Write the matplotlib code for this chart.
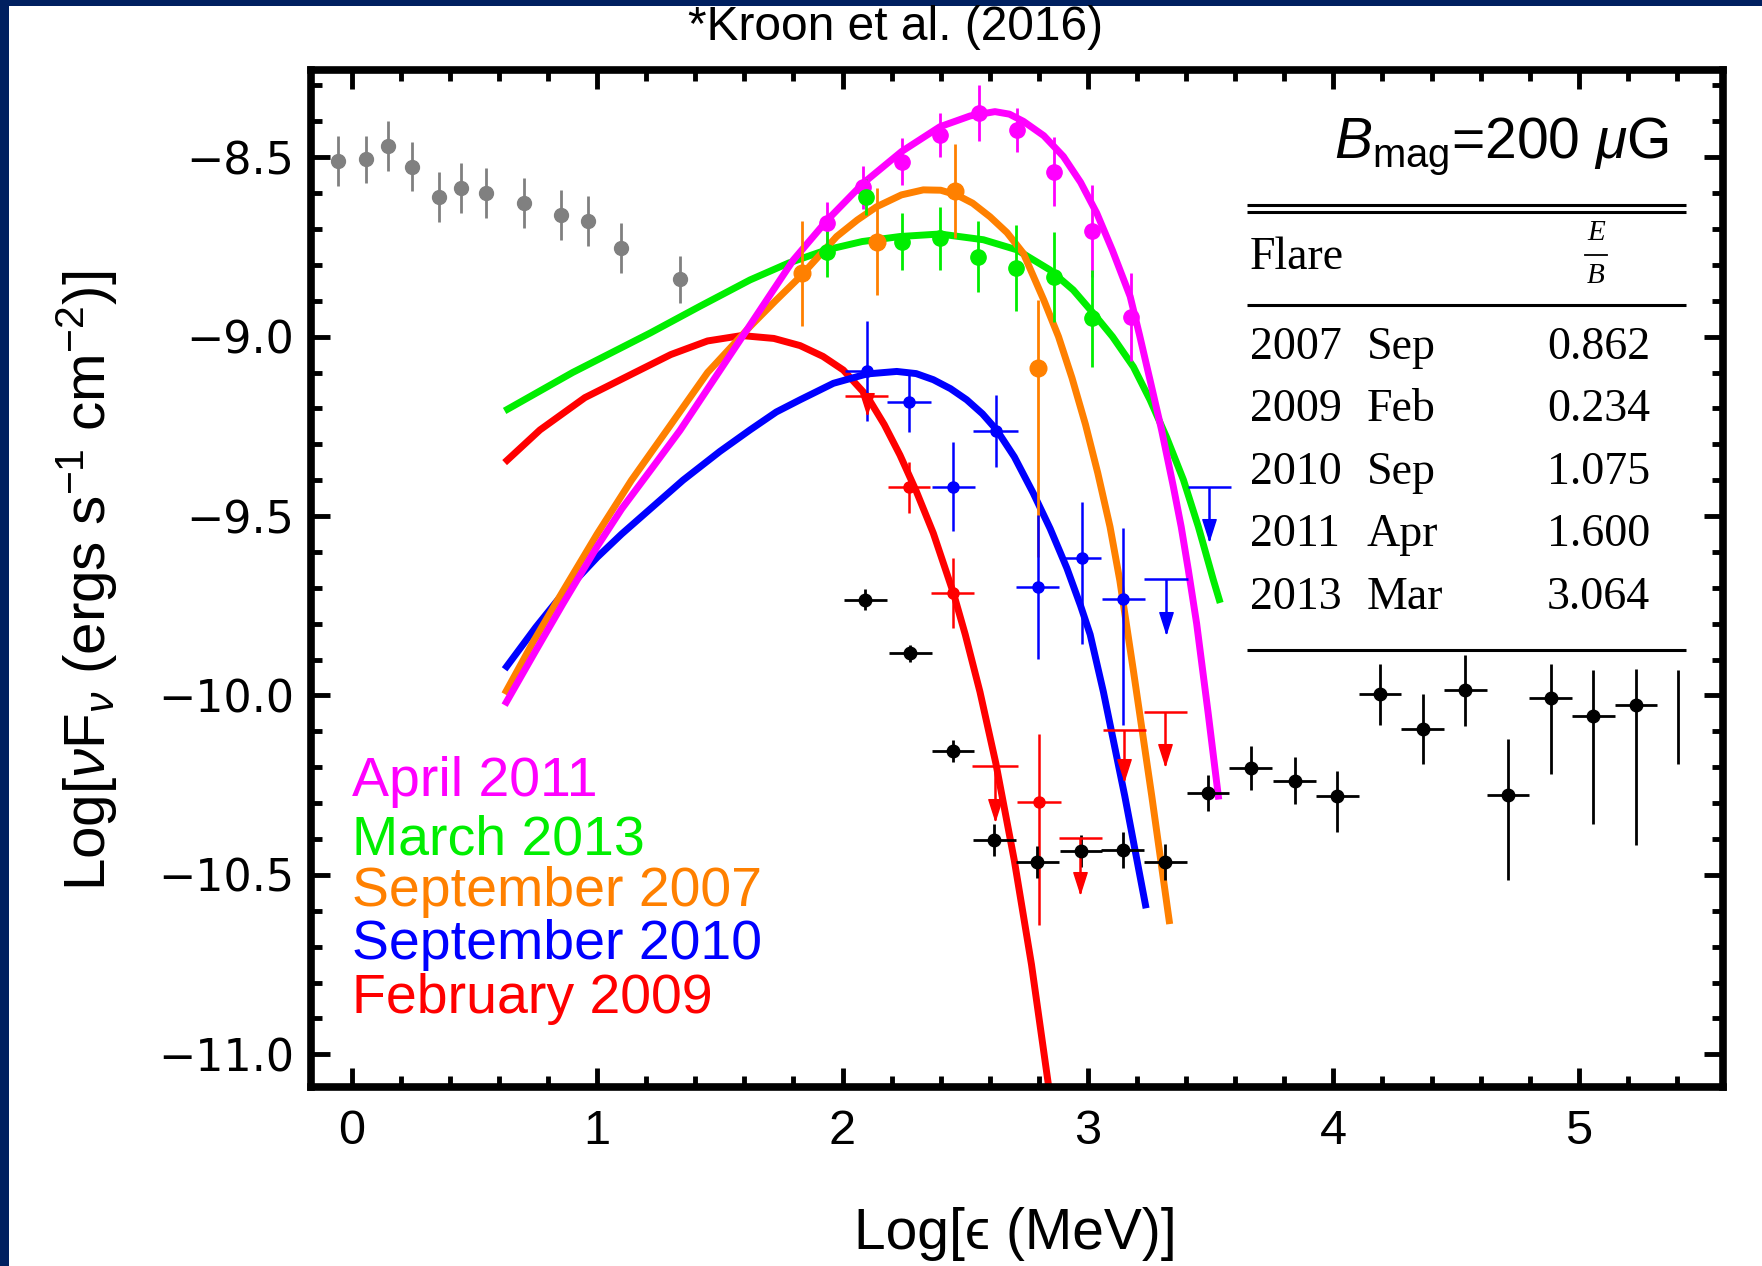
import matplotlib
matplotlib.use('Agg')
import matplotlib.pyplot as plt
from matplotlib.patches import Rectangle
from matplotlib.path import Path
from matplotlib.ticker import MultipleLocator, FixedLocator, FuncFormatter

plt.rcParams['font.family'] = ['Liberation Sans', 'DejaVu Sans']
plt.rcParams['mathtext.fontset'] = 'custom'
plt.rcParams['mathtext.rm'] = 'Liberation Sans'
plt.rcParams['mathtext.it'] = 'Liberation Sans:italic'
plt.rcParams['mathtext.bf'] = 'Liberation Sans:bold'

# ---------------- data ----------------
# gray (low-energy) points
gray_x = [-0.055, 0.058, 0.147, 0.247, 0.357, 0.446, 0.547, 0.70, 0.853, 0.963, 1.098, 1.338]
gray_y = [-8.51, -8.506, -8.469, -8.527, -8.61, -8.585, -8.599, -8.627, -8.661, -8.678, -8.754, -8.84]
gray_err = [0.07, 0.065, 0.07, 0.068, 0.07, 0.07, 0.07, 0.07, 0.07, 0.07, 0.07, 0.065]

# black (high-energy) points
blk_x = [2.093, 2.276, 2.45, 2.619, 2.793, 2.972, 3.141, 3.315, 3.489, 3.663, 3.842, 4.016,
         4.19, 4.364, 4.538, 4.712, 4.885, 5.059, 5.233]
blk_y = [-9.733, -9.883, -10.155, -10.402, -10.465, -10.434, -10.431, -10.465, -10.271, -10.202,
         -10.237, -10.28, -9.996, -10.093, -9.986, -10.277, -10.008, -10.058, -10.027]
blk_lo = [0.03, 0.025, 0.03, 0.045, 0.045, 0.045, 0.05, 0.05, 0.05, 0.06, 0.065, 0.1,
          0.085, 0.097, 0.1, 0.238, 0.21, 0.30, 0.39]
blk_hi = [0.03, 0.025, 0.03, 0.045, 0.045, 0.045, 0.05, 0.05, 0.05, 0.06, 0.065, 0.07,
          0.085, 0.097, 0.1, 0.156, 0.097, 0.13, 0.1]
blk_xerr = [0.087, 0.087, 0.087, 0.087, 0.087, 0.087, 0.087, 0.087, 0.087, 0.087, 0.087, 0.087,
            0.087, 0.087, 0.087, 0.087, 0.087, 0.087, 0.087]
blk_bar_x = [5.403]
blk_bar_lo = [-10.19]
blk_bar_hi = [-9.93]

# April 2011 (magenta)
apr_x = [1.938, 2.085, 2.241, 2.397, 2.557, 2.71, 2.862, 3.018, 3.176]
apr_y = [-8.684, -8.584, -8.512, -8.438, -8.377, -8.424, -8.54, -8.705, -8.946]
apr_err = [0.06, 0.06, 0.065, 0.062, 0.078, 0.062, 0.095, 0.128, 0.123]

# March 2013 (green)
mar_x = [1.938, 2.096, 2.241, 2.397, 2.553, 2.706, 2.863, 3.018]
mar_y = [-8.763, -8.611, -8.735, -8.726, -8.777, -8.809, -8.834, -8.949]
mar_err = [0.072, 0.05, 0.079, 0.088, 0.10, 0.12, 0.125, 0.135]

# September 2007 (orange)
s07_x = [1.836, 2.139, 2.458, 2.798]
s07_y = [-8.823, -8.735, -8.594, -9.088]
s07_lo = [0.146, 0.15, 0.13, 0.525]
s07_hi = [0.146, 0.15, 0.13, 0.19]

# September 2010 (blue)
s10_x = [2.099, 2.271, 2.452, 2.624, 2.795, 2.975, 3.144]
s10_y = [-9.096, -9.181, -9.418, -9.263, -9.698, -9.616, -9.732]
s10_lo = [0.14, 0.086, 0.124, 0.099, 0.2, 0.24, 0.35]
s10_hi = [0.14, 0.086, 0.124, 0.099, 0.2, 0.154, 0.2]
s10_xerr = [0.09, 0.088, 0.088, 0.093, 0.088, 0.08, 0.088]
s10_ul_x = [3.318, 3.495]
s10_ul_y = [-9.676, -9.418]
s10_ul_len = [0.15, 0.15]
s10_ul_xerr = [0.088, 0.088]

# February 2009 (red)
f09_x = [2.271, 2.449, 2.799]
f09_y = [-9.42, -9.715, -10.298]
f09_lo = [0.072, 0.098, 0.342]
f09_hi = [0.072, 0.098, 0.19]
f09_xerr = [0.085, 0.088, 0.09]
f09_ul_x = [2.099, 2.621, 2.969, 3.148, 3.316]
f09_ul_y = [-9.165, -10.196, -10.396, -10.096, -10.045]
f09_ul_len = [0.05, 0.15, 0.155, 0.14, 0.15]
f09_ul_xerr = [0.088, 0.093, 0.087, 0.088, 0.088]

# model curves
apr_cx = [0.623, 0.75, 0.86, 1.0, 1.1, 1.22, 1.338, 1.48, 1.623, 1.72, 1.80, 1.938, 2.085, 2.241,
          2.397, 2.52, 2.621, 2.68, 2.737, 2.82, 2.90, 2.97, 3.036, 3.10, 3.172, 3.21, 3.253,
          3.30, 3.348, 3.38, 3.409, 3.443, 3.49, 3.533]
apr_cy = [-10.027, -9.875, -9.745, -9.585, -9.48, -9.37, -9.261, -9.115, -8.968, -8.868, -8.786,
          -8.675, -8.572, -8.484, -8.415, -8.385, -8.373, -8.38, -8.40, -8.44, -8.498, -8.57,
          -8.656, -8.76, -8.888, -8.995, -9.121, -9.26, -9.418, -9.53, -9.65, -9.80, -10.05, -10.29]
mar_cx = [0.623, 0.9, 1.216, 1.42, 1.623, 1.78, 1.936, 2.08, 2.234, 2.397, 2.574, 2.71, 2.845,
          2.94, 3.022, 3.10, 3.185, 3.253, 3.32, 3.389, 3.45, 3.511, 3.539]
mar_cy = [-9.207, -9.10, -8.99, -8.915, -8.842, -8.795, -8.758, -8.735, -8.721, -8.714, -8.73,
          -8.758, -8.814, -8.87, -8.935, -9.0, -9.084, -9.176, -9.28, -9.399, -9.53, -9.678, -9.742]
s07_cx = [0.623, 0.74, 0.86, 1.0, 1.14, 1.284, 1.45, 1.623, 1.727, 1.827, 1.976, 2.06, 2.139,
          2.24, 2.329, 2.40, 2.465, 2.53, 2.601, 2.67, 2.737, 2.82, 2.88, 2.935, 2.99, 3.04,
          3.09, 3.13, 3.185, 3.26, 3.333]
s07_cy = [-9.996, -9.85, -9.71, -9.55, -9.40, -9.261, -9.10, -8.972, -8.90, -8.833, -8.721,
          -8.675, -8.638, -8.605, -8.591, -8.592, -8.605, -8.628, -8.666, -8.71, -8.768, -8.898,
          -9.0, -9.115, -9.245, -9.38, -9.53, -9.68, -9.93, -10.28, -10.637]
s10_cx = [0.623, 0.75, 0.856, 1.0, 1.1, 1.25, 1.35, 1.5, 1.623, 1.73, 1.827, 1.963, 2.099, 2.221,
          2.30, 2.37, 2.44, 2.506, 2.57, 2.628, 2.70, 2.777, 2.846, 2.914, 2.97, 3.009, 3.063,
          3.15, 3.237]
s10_cy = [-9.927, -9.81, -9.72, -9.615, -9.55, -9.46, -9.40, -9.32, -9.26, -9.21, -9.176, -9.13,
          -9.104, -9.097, -9.103, -9.12, -9.145, -9.176, -9.215, -9.26, -9.335, -9.436, -9.535,
          -9.645, -9.75, -9.83, -9.99, -10.28, -10.593]
f09_cx = [0.623, 0.767, 0.95, 1.148, 1.3, 1.45, 1.589, 1.72, 1.827, 1.92, 2.003, 2.099, 2.17,
          2.234, 2.30, 2.37, 2.452, 2.50, 2.56, 2.625, 2.70, 2.77, 2.84]
f09_cy = [-9.351, -9.26, -9.17, -9.102, -9.05, -9.012, -8.997, -9.005, -9.025, -9.055, -9.093,
          -9.165, -9.245, -9.33, -9.43, -9.548, -9.715, -9.83, -9.99, -10.19, -10.46, -10.75, -11.09]

legend_labels = ['April 2011', 'March 2013', 'September 2007', 'September 2010', 'February 2009']
legend_colors = ['#FF00FF', '#00EE00', '#FF8000', '#0000FF', '#FF0000']

table_years = ['2007', '2009', '2010', '2011', '2013']
table_months = ['Sep', 'Feb', 'Sep', 'Apr', 'Mar']
table_ratio = ['0.862', '0.234', '1.075', '1.600', '3.064']

xtick_vals = [0, 1, 2, 3, 4, 5]
ytick_vals = [-11.0, -10.5, -10.0, -9.5, -9.0, -8.5]

# ---------------- figure ----------------
W, H = 1762, 1266
fig = plt.figure(figsize=(W / 100, H / 100), dpi=100)
fig.patch.set_facecolor('white')
navy = '#002060'
fig.add_artist(Rectangle((0, 0), 9 / W, 1, transform=fig.transFigure,
                         facecolor=navy, edgecolor='none', zorder=0))
fig.add_artist(Rectangle((0, 1 - 6 / H), 1, 6 / H, transform=fig.transFigure,
                         facecolor=navy, edgecolor='none', zorder=0))

ax = fig.add_axes([0.1765, 0.1414, 0.8014, 0.8033])
ax.set_xlim(-0.166, 5.588)
ax.set_ylim(-11.091, -8.257)

for s in ax.spines.values():
    s.set_linewidth(5.5)
    s.set_zorder(10)

ax.xaxis.set_major_locator(FixedLocator(xtick_vals))
ax.xaxis.set_minor_locator(MultipleLocator(0.2))
ax.yaxis.set_major_locator(FixedLocator(ytick_vals))
ax.yaxis.set_minor_locator(MultipleLocator(0.1))
ax.xaxis.set_major_formatter(FuncFormatter(lambda v, p: f'{v:.0f}'))
ax.yaxis.set_major_formatter(FuncFormatter(lambda v, p: f'{v:.1f}'.replace('-', '\u2212')))
ax.tick_params(which='both', direction='in', top=True, right=True, width=3.5, color='black')
ax.tick_params(which='major', length=14)
ax.tick_params(which='minor', length=8)
ax.tick_params(axis='x', which='major', labelsize=35, pad=16)
ax.tick_params(axis='y', which='major', labelsize=32, pad=12, labelfontfamily='DejaVu Sans')

# curves
curve_lw = 5
ax.plot(mar_cx, mar_cy, color='#00EE00', lw=curve_lw, solid_capstyle='butt', zorder=3)
ax.plot(f09_cx, f09_cy, color='#FF0000', lw=curve_lw, solid_capstyle='butt', zorder=3)
ax.plot(s10_cx, s10_cy, color='#0000FF', lw=curve_lw, solid_capstyle='butt', zorder=3)
ax.plot(s07_cx, s07_cy, color='#FF8000', lw=curve_lw, solid_capstyle='butt', zorder=3)
ax.plot(apr_cx, apr_cy, color='#FF00FF', lw=curve_lw, solid_capstyle='butt', zorder=3)

# data points
ax.errorbar(gray_x, gray_y, yerr=gray_err, fmt='o', color='#808080', ms=10,
            elinewidth=2, capsize=0, zorder=4)
ax.errorbar(apr_x, apr_y, yerr=apr_err, fmt='o', color='#FF00FF', ms=11,
            elinewidth=2, capsize=0, zorder=4)
ax.errorbar(mar_x, mar_y, yerr=mar_err, fmt='o', color='#00EE00', ms=11,
            elinewidth=2, capsize=0, zorder=4)
ax.errorbar(s07_x, s07_y, yerr=[s07_lo, s07_hi], fmt='o', color='#FF8000', ms=12,
            elinewidth=2, capsize=0, zorder=4)
ax.errorbar(s10_x, s10_y, xerr=s10_xerr, yerr=[s10_lo, s10_hi], fmt='o', color='#0000FF', ms=8,
            elinewidth=1.8, capsize=0, zorder=5)
ax.errorbar(f09_x, f09_y, xerr=f09_xerr, yerr=[f09_lo, f09_hi], fmt='o', color='#FF0000', ms=8,
            elinewidth=1.8, capsize=0, zorder=5)
ax.errorbar(blk_x, blk_y, xerr=blk_xerr, yerr=[blk_lo, blk_hi], fmt='o', color='black', ms=9,
            elinewidth=2, capsize=0, zorder=5)
ax.vlines(blk_bar_x, blk_bar_lo, blk_bar_hi, color='black', lw=2, zorder=5)

# upper limits
arrow_path = Path([(-0.32, 1.0), (0.32, 1.0), (0.0, 0.0), (-0.32, 1.0)],
                  [Path.MOVETO, Path.LINETO, Path.LINETO, Path.CLOSEPOLY])


def upper_limits(x, y, length, xerr, color):
    zeros = [0.0 for _ in length]
    ax.errorbar(x, y, xerr=xerr, yerr=[length, zeros], fmt='none', ecolor=color,
                elinewidth=1.8, capsize=0, zorder=5)
    tips = [yy - ll for yy, ll in zip(y, length)]
    ax.plot(x, tips, linestyle='none', marker=arrow_path, ms=30, color=color, zorder=5)


upper_limits(s10_ul_x, s10_ul_y, s10_ul_len, s10_ul_xerr, '#0000FF')
upper_limits(f09_ul_x, f09_ul_y, f09_ul_len, f09_ul_xerr, '#FF0000')

# legend texts
leg_base = [0.2862, 0.2287, 0.1779, 0.1260, 0.0729]
for lab, col, yb in zip(legend_labels, legend_colors, leg_base):
    ax.text(0.0287, yb, lab, transform=ax.transAxes, color=col, fontsize=40,
            ha='left', va='baseline', zorder=6)

# B_mag label
ax.text(0.9618, 0.9249, r'$B_{\mathrm{mag}}$=200 $\mu$G', transform=ax.transAxes,
        ha='right', va='center', fontsize=41, zorder=6)

# table
tx0, tx1 = 0.6632, 0.9737
for yl in [0.8674, 0.8608, 0.7691, 0.4298]:
    ax.plot([tx0, tx1], [yl, yl], transform=ax.transAxes, color='black', lw=2.2,
            solid_capstyle='butt', zorder=6)
serif = ['Liberation Serif', 'DejaVu Serif']
ax.text(0.6648, 0.8039, 'Flare', transform=ax.transAxes, family=serif, fontsize=33,
        ha='left', va='baseline', zorder=6)
ax.text(0.910, 0.8398, 'E', transform=ax.transAxes, family=serif, style='italic', fontsize=21,
        ha='center', va='center', zorder=6)
ax.text(0.910, 0.7978, 'B', transform=ax.transAxes, family=serif, style='italic', fontsize=21,
        ha='center', va='center', zorder=6)
ax.plot([0.902, 0.918], [0.8177, 0.8177], transform=ax.transAxes, color='black', lw=1.3, zorder=6)
row_base = [0.7157, 0.6549, 0.5930, 0.5323, 0.4704]
for yr, mo, rv, yb in zip(table_years, table_months, table_ratio, row_base):
    ax.text(0.6648, yb, yr, transform=ax.transAxes, family=serif, fontsize=33,
            ha='left', va='baseline', zorder=6)
    ax.text(0.7476, yb, mo, transform=ax.transAxes, family=serif, fontsize=33,
            ha='left', va='baseline', zorder=6)
    ax.text(0.9482, yb, rv, transform=ax.transAxes, family=serif, fontsize=33,
            ha='right', va='baseline', zorder=6)

# title and axis labels
fig.text(0.508, 0.978, '*Kroon et al. (2016)', ha='center', va='center', fontsize=34.5)
fig.text(0.576, 0.0253, 'Log[\u03f5 (MeV)]', ha='center', va='center', fontsize=41)
fig.text(0.0497, 0.541, r'Log[$\nu$F$_\nu$ (ergs s$^{-1}$ cm$^{-2}$)]', rotation=90,
         ha='center', va='center', fontsize=42)

fig.savefig('out.png', dpi=100)
